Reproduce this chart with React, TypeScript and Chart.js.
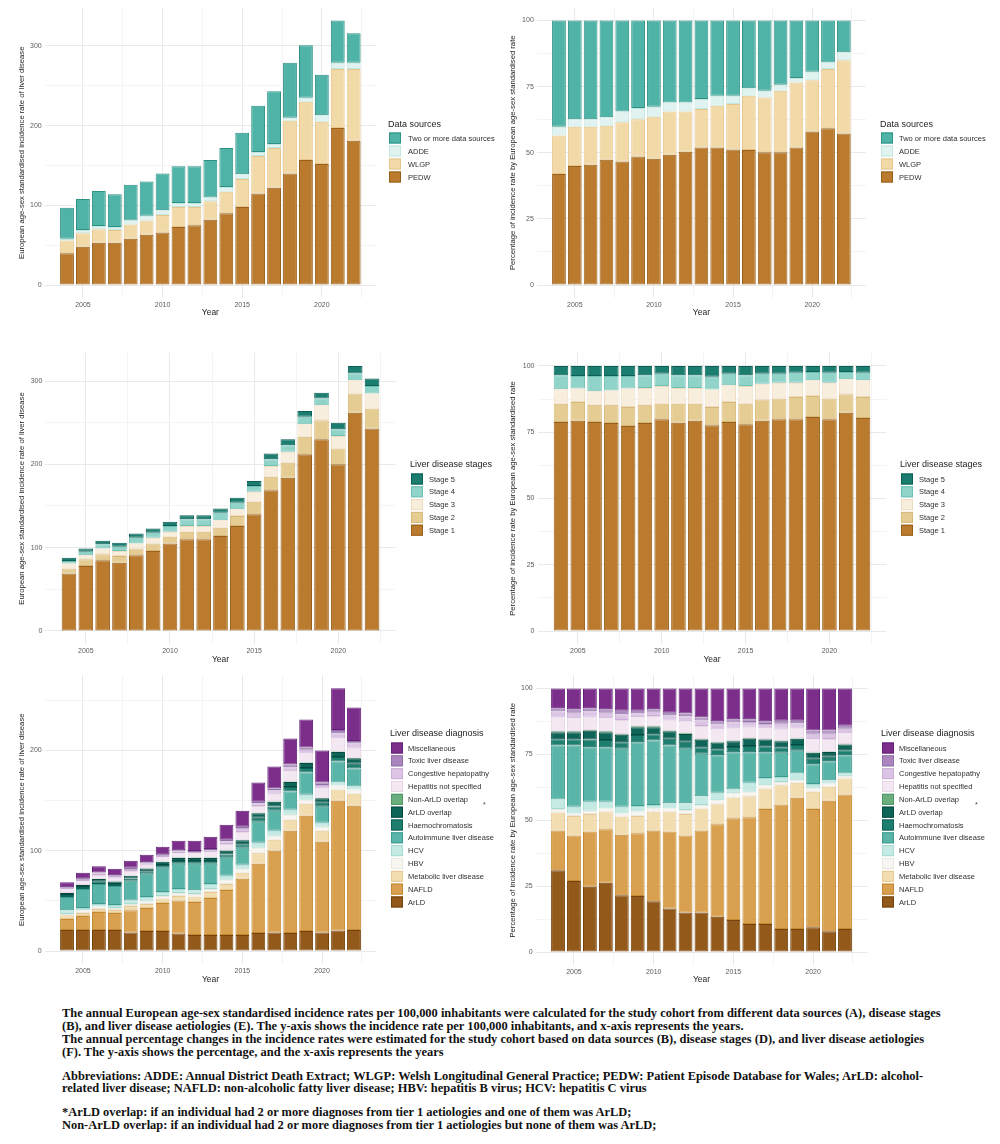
import React, { useEffect, useRef } from 'react';
import { Chart, registerables } from 'chart.js';

Chart.register(...registerables);

if (typeof document !== 'undefined') {
  document.body.style.margin = '0';
}

// ---------- shared axes ----------
const YEARS = [2004, 2005, 2006, 2007, 2008, 2009, 2010, 2011, 2012, 2013, 2014, 2015, 2016, 2017, 2018, 2019, 2020, 2021, 2022];
const YEAR_TICKS = [2005, 2010, 2015, 2020];
const YEAR_MINOR = [2007.5, 2012.5, 2017.5, 2022.5];
const RATE_TICKS_A = [0, 100, 200, 300];
const RATE_TICKS_C = [0, 100, 200, 300];
const RATE_TICKS_E = [0, 100, 200];
const RATE_MINOR = [50, 150, 250];
const PCT_TICKS = [0, 25, 50, 75, 100];
const PCT_MINOR = [12.5, 37.5, 62.5, 87.5];

const RATE_TITLE = 'European age-sex standardised incidence rate of liver disease';
const PCT_TITLE = 'Percentage of incidence rate by European age-sex standardised rate';

// ---------- Panel A: rate by data source ----------
const A_PEDW = [40, 48, 53, 53, 58, 63, 66, 73, 75, 82, 90, 98, 115, 122, 140, 157, 152, 197, 181];
const A_WLGP = [16, 17, 17, 16, 18, 18, 22, 25, 23, 23, 27, 35, 47, 50, 66, 73, 53, 74, 90];
const A_ADDE = [2, 4, 4, 4, 5, 6, 6, 5, 5, 5, 6, 6, 5, 5, 4, 5, 8, 8, 8];
const A_TWO = [39, 39, 44, 41, 45, 43, 46, 46, 46, 47, 49, 52, 58, 66, 69, 66, 51, 53, 37];

// ---------- Panel B: percentage by data source ----------
const B_PEDW = [42, 45, 45.5, 47.4, 46.7, 48.6, 47.7, 49.2, 50.4, 52, 52, 51.2, 51, 50.2, 50.2, 52, 58, 59.3, 57.3];
const B_WLGP = [14.5, 14.8, 14.3, 12.8, 14.8, 14.1, 15.9, 16.4, 15.2, 14.5, 15.8, 17.2, 20.5, 20.7, 23.2, 24.5, 19.4, 22.3, 27.7];
const B_ADDE = [3.3, 2.9, 2.9, 3.2, 4.1, 4.2, 3.8, 3.4, 3.4, 3.8, 3.7, 3.1, 2.9, 2.5, 2.3, 1.7, 3.2, 2.5, 3];
const B_TWO = [40.2, 37.3, 37.3, 36.6, 34.4, 33.1, 32.6, 31, 31, 29.7, 28.5, 28.5, 25.6, 26.6, 24.3, 21.8, 19.4, 15.9, 12];

// ---------- Panel C: rate by stage ----------
const C_S1 = [69, 78, 85, 82, 91, 96, 105, 110, 110, 114, 126, 140, 169, 184, 212, 230, 200, 262, 243];
const C_S2 = [6, 8, 7, 8, 8, 9, 8, 9, 9, 10, 12, 15, 16, 18, 21, 23, 19, 23, 24];
const C_S3 = [6, 5, 7, 6, 6, 7, 6, 7, 7, 9, 8, 12, 13, 13, 15, 18, 15, 16, 18];
const C_S4 = [3, 4, 5, 5, 7, 6, 7, 8, 8, 9, 8, 7, 8, 8, 9, 8, 8, 8, 9];
const C_S5 = [4, 4, 4.4, 5, 5, 5, 5, 5, 5, 5, 6, 6, 7, 7, 7, 7, 8, 9, 9];

// ---------- Panel D: percentage by stage ----------
const D_S1 = [78.9, 79.3, 78.9, 78.5, 77.4, 78.5, 79.9, 78.6, 79.3, 77.6, 78.9, 78, 79.3, 79.9, 79.9, 80.8, 79.9, 82.4, 80.4];
const D_S2 = [6.9, 7.1, 6.5, 6.9, 7.1, 6.9, 5.9, 7.2, 6.5, 6.9, 7.5, 7.8, 8.1, 7.8, 8.4, 7.9, 7.8, 6.9, 7.9];
const D_S3 = [5.4, 5.1, 5.1, 5.4, 7.0, 6.3, 6.7, 5.9, 5.9, 6.6, 6.3, 6.7, 5.9, 6.0, 5.4, 5.9, 6.0, 5.7, 6.3];
const D_S4 = [5.3, 4.7, 5.7, 5.4, 4.7, 4.8, 4.6, 4.8, 4.8, 4.8, 4.4, 4.0, 3.8, 3.4, 3.8, 3.1, 3.8, 2.7, 2.9];
const D_S5 = [3.5, 3.8, 3.8, 3.8, 3.8, 3.5, 2.9, 3.5, 3.5, 4.1, 2.9, 3.5, 2.9, 2.9, 2.5, 2.3, 2.5, 2.3, 2.5];

// ---------- Panel E: rate by diagnosis ----------
const E_ARLD = [21, 21, 21, 21, 18.5, 20, 20, 17.5, 16, 16, 16, 16, 18, 18.5, 18, 20, 18.5, 20.5, 21];
const E_NAFLD = [11, 14, 18, 17, 22.1, 23, 28, 33, 33, 37, 45, 56, 69, 81.5, 102, 115, 90.5, 129.5, 124];
const E_METAB = [3.6, 3, 3, 3, 4.4, 4, 4.5, 4.5, 5.5, 6, 6, 6, 11, 11, 11, 12, 11, 11, 12];
const E_HBV = [1.4, 2.6, 2.5, 2, 2, 2.5, 2.5, 3, 2.5, 3, 4, 4, 5, 4, 5, 4, 4, 4, 4];
const E_HCV = [3.6, 2.4, 2.5, 3, 3.5, 4.5, 4, 4, 3.7, 5, 4, 4, 5, 5, 5, 5, 4, 3, 3];
const E_AUTO = [13.4, 19, 20, 19, 19.5, 23, 24, 25, 26.3, 20, 18, 17, 21, 20, 18, 22, 16, 21, 18];
const E_HAEMO = [1.8, 1.8, 2.2, 2.0, 2.4, 2.5, 2.8, 2.8, 2.8, 2.8, 3.4, 3.6, 4.0, 4.2, 4.5, 4.5, 4.0, 4.5, 4.8];
const E_ARLD_OV = [2.0, 2.0, 2.6, 2.3, 2.6, 2.8, 3.2, 3.1, 3.1, 3.1, 3.7, 4.0, 4.5, 4.6, 5.0, 5.0, 4.5, 5.0, 5.4];
const E_NONARLD_OV = [0.2, 0.2, 0.2, 0.2, 0.3, 0.3, 0.3, 0.3, 0.3, 0.3, 0.4, 0.4, 0.5, 0.5, 0.5, 0.5, 0.5, 0.5, 0.5];
const E_HEPNS = [3.4, 3.6, 3.8, 3.7, 4.6, 3.5, 4.0, 4.4, 4.0, 5.2, 6.3, 7.8, 6.6, 7.6, 10.2, 9.0, 9.0, 12.9, 10.1];
const E_CONG = [1.4, 1.5, 1.6, 1.6, 1.9, 1.5, 1.7, 1.8, 1.6, 2.1, 2.6, 3.2, 2.7, 3.2, 4.2, 3.7, 3.7, 5.4, 4.2];
const E_TOXIC = [0.8, 0.9, 0.9, 0.9, 1.2, 0.9, 1.0, 1.1, 1.0, 1.3, 1.6, 2.0, 1.7, 1.9, 2.6, 2.3, 2.3, 3.2, 2.5];
const E_MISC = [5, 6, 6.2, 6.3, 7, 7.5, 8, 9.5, 10.2, 12.2, 15, 16, 19, 22, 26, 28, 32, 41.5, 33.5];

// ---------- Panel F: percentage by diagnosis ----------
const F_ARLD = [31, 27, 24.8, 26.3, 21.6, 21.3, 19.3, 16.5, 15, 15, 13.4, 12.2, 10.7, 10.7, 8.8, 8.8, 9.4, 7.9, 8.8];
const F_NAFLD = [15.1, 17.2, 20.9, 20.3, 22.9, 23.8, 26.8, 29.2, 29.2, 31.1, 35.1, 38.6, 40.4, 43.6, 47.2, 49.7, 44.9, 49.5, 51];
const F_METAB = [6.8, 7.4, 6.7, 6.7, 6.9, 6.5, 7.2, 7.6, 8.2, 8.4, 7.6, 7.8, 8, 7.7, 7.3, 5.7, 6.5, 5.3, 6];
const F_HBV = [1.4, 1, 1.2, 1.2, 1.2, 1.7, 1.2, 1.2, 1.5, 1.3, 1.5, 1.6, 1.7, 1.3, 1.2, 1, 1.2, 1.2, 0.9];
const F_HCV = [3.6, 2.5, 3.4, 2.5, 2.5, 2.1, 1.3, 1.9, 2.5, 3.3, 2.8, 1.5, 3.4, 2.7, 1.9, 2.5, 1.7, 1.3, 1];
const F_AUTO = [20.4, 23.2, 20.7, 20.7, 22, 24.2, 24.4, 21.9, 20.7, 16.1, 14.2, 14.1, 11.6, 9.8, 9.2, 8.7, 7.5, 7.2, 6.9];
const F_HAEMO = [2.4, 2.4, 2.9, 2.7, 2.5, 2.7, 2.4, 2.6, 2.7, 2.5, 2.3, 2.0, 2.4, 2.3, 2.1, 2.1, 2.1, 1.7, 1.9];
const F_ARLD_OV = [2.7, 2.7, 3.3, 3.0, 2.8, 3.0, 2.7, 2.8, 2.9, 2.8, 2.6, 2.2, 2.7, 2.5, 2.3, 2.4, 2.3, 1.8, 2.2];
const F_NONARLD_OV = [0.3, 0.3, 0.3, 0.3, 0.3, 0.3, 0.3, 0.3, 0.3, 0.3, 0.3, 0.2, 0.3, 0.2, 0.2, 0.2, 0.2, 0.2, 0.2];
const F_HEPNS = [5.3, 5.0, 5.0, 5.0, 5.3, 3.5, 3.9, 4.1, 4.5, 4.9, 4.6, 4.9, 4.3, 4.0, 4.5, 4.0, 4.9, 4.7, 4.1];
const F_CONG = [2.2, 2.1, 2.1, 2.1, 2.2, 1.5, 1.6, 1.7, 1.9, 2.1, 1.9, 2.0, 1.8, 1.7, 1.9, 1.7, 2.1, 2.0, 1.7];
const F_TOXIC = [1.3, 1.3, 1.2, 1.3, 1.3, 0.9, 1.0, 1.0, 1.1, 1.2, 1.2, 1.2, 1.0, 1.0, 1.1, 0.9, 1.2, 1.2, 1.1];
const F_MISC = [7.5, 7.9, 7.5, 7.9, 8.5, 8.5, 7.9, 9.2, 9.5, 11, 12.5, 11.7, 11.7, 12.5, 12.3, 12.3, 16, 16, 14.2];

// ---------- legend labels ----------
const SOURCE_LABELS = ['PEDW', 'WLGP', 'ADDE', 'Two or more data sources'];
const STAGE_LABELS = ['Stage 1', 'Stage 2', 'Stage 3', 'Stage 4', 'Stage 5'];
const DIAG_LABELS = [
  'ArLD', 'NAFLD', 'Metabolic liver disease', 'HBV', 'HCV', 'Autoimmune liver disease',
  'Haemochromatosis', 'ArLD overlap', 'Non-ArLD overlap', 'Hepatitis not specified',
  'Congestive hepatopathy', 'Toxic liver disease', 'Miscellaneous',
];

const CAPTION_LINES = [
  'The annual European age-sex standardised incidence rates per 100,000 inhabitants were calculated for the study cohort from different data sources (A), disease stages',
  '(B), and liver disease aetiologies (E). The y-axis shows the incidence rate per 100,000 inhabitants, and x-axis represents the years.',
  'The annual percentage changes in the incidence rates were estimated for the study cohort based on data sources (B), disease stages (D), and liver disease aetiologies',
  '(F). The y-axis shows the percentage, and the x-axis represents the years',
  'Abbreviations: ADDE: Annual District Death Extract; WLGP: Welsh Longitudinal General Practice; PEDW: Patient Episode Database for Wales; ArLD: alcohol-',
  'related liver disease; NAFLD: non-alcoholic fatty liver disease; HBV: hepatitis B virus; HCV: hepatitis C virus',
  '*ArLD overlap: if an individual had 2 or more diagnoses from tier 1 aetiologies and one of them was ArLD;',
  'Non-ArLD overlap: if an individual had 2 or more diagnoses from tier 1 aetiologies but none of them was ArLD;',
];
const CAPTION_Y = [1013, 1026, 1039, 1052, 1076, 1088, 1112, 1125];

// ---------- colours ----------
const SOURCE_FILL = ['#bb7b2e', '#f2d9a8', '#e0f3f0', '#4fb3a7'];
const SOURCE_LINE = ['#98601a', '#e6c68c', '#c2e6e0', '#2d9184'];
const STAGE_FILL = ['#bb7b2e', '#e5cc93', '#f8eedd', '#8fd3c9', '#1a7d6f'];
const STAGE_LINE = ['#98601a', '#d8b878', '#efdcbf', '#6fc0b4', '#0b5f54'];
const DIAG_FILL = ['#93591a', '#d9a14f', '#f2ddb0', '#f7f6f1', '#c5e9e3', '#5ab5a9', '#1d7e70', '#0f6458', '#6aae7e', '#f3e7f2', '#dcc4e4', '#a984bd', '#7b2e8a'];
const DIAG_LINE = ['#74420a', '#c4892f', '#e7c995', '#ebe8df', '#a6dbd3', '#3c9a8e', '#0e6357', '#064a40', '#4f9766', '#e8d6e6', '#cbaed6', '#9270a8', '#64207a'];

const FONT = '"Liberation Sans", Arial, Helvetica, sans-serif';
const TICK_COLOR = '#5b5b5b';
const TITLE_COLOR = '#1e1e1e';
const GRID_MAJOR = '#e9e9e9';
const GRID_MINOR = '#f4f4f4';

type Series = { label: string; values: number[]; fill: string; line: string };
type PanelCfg = {
  key: string;
  cx: number; cy: number; cw: number; ch: number;
  padTop: number; padRight: number; yAxisW: number; xAxisH: number;
  yMin: number; yMax: number; yMajor: number[]; yMinor: number[];
  yTitle: string; yTitlePad: number; yearPad: number;
  series: Series[];
  legend: { title: string; x: number; titleY: number; rowY: number; rowH: number; labelX: number; note?: { x: number; y: number } };
};

function makeSeries(labels: string[], values: number[][], fills: string[], lines: string[]): Series[] {
  return labels.map((label, i) => ({ label, values: values[i], fill: fills[i], line: lines[i] }));
}

const sideLegend = {
  id: 'sideLegend',
  afterDraw(chart: any, _args: any, opts: any) {
    if (!opts || !opts.title) return;
    const ctx = chart.ctx as CanvasRenderingContext2D;
    ctx.save();
    ctx.textBaseline = 'middle';
    ctx.textAlign = 'left';
    ctx.fillStyle = TITLE_COLOR;
    ctx.font = `9px ${FONT}`;
    ctx.fillText(opts.title, opts.x, opts.titleY);
    const ds = chart.data.datasets.slice().reverse();
    ds.forEach((d: any, i: number) => {
      const y = opts.rowY + i * opts.rowH;
      ctx.fillStyle = d.backgroundColor;
      ctx.fillRect(opts.x + 1, y - 5.5, 12, 11);
      ctx.strokeStyle = d.borderColor;
      ctx.lineWidth = 1;
      ctx.strokeRect(opts.x + 1.5, y - 5, 11, 10);
      ctx.fillStyle = '#303030';
      ctx.font = `7.5px ${FONT}`;
      ctx.fillText(d.label, opts.labelX, y + 0.5);
    });
    if (opts.note) {
      ctx.fillStyle = '#444';
      ctx.font = `7px ${FONT}`;
      ctx.fillText('*', opts.note.x, opts.note.y);
    }
    ctx.restore();
  },
};

function buildConfig(p: PanelCfg): any {
  const xAll = [...YEAR_TICKS, ...YEAR_MINOR].sort((a, b) => a - b);
  const yAll = [...p.yMajor, ...p.yMinor].filter((v) => v <= p.yMax).sort((a, b) => a - b);
  return {
    type: 'bar',
    data: {
      datasets: p.series.map((s) => ({
        label: s.label,
        data: YEARS.map((yr, i) => ({ x: yr, y: s.values[i] })),
        backgroundColor: s.fill,
        borderColor: s.line,
        borderWidth: 1,
        borderSkipped: false,
        barPercentage: 0.92,
        categoryPercentage: 0.945,
      })),
    },
    options: {
      animation: false,
      responsive: false,
      maintainAspectRatio: false,
      events: [],
      layout: { padding: { top: p.padTop, right: p.padRight, bottom: 0, left: 0 } },
      plugins: {
        legend: { display: false },
        tooltip: { enabled: false },
        sideLegend: p.legend,
      },
      scales: {
        x: {
          type: 'linear',
          stacked: true,
          min: 2002.6,
          max: 2023.4,
          offset: false,
          afterBuildTicks: (s: any) => {
            s.ticks = xAll.map((v) => ({ value: v }));
          },
          afterFit: (s: any) => {
            s.height = p.xAxisH;
          },
          ticks: {
            autoSkip: false,
            maxRotation: 0,
            padding: 3,
            color: TICK_COLOR,
            font: { family: FONT, size: 7 },
            callback: (v: number) => (YEAR_TICKS.includes(v) ? String(v) : ''),
          },
          grid: {
            offset: false,
            drawTicks: false,
            lineWidth: 1,
            color: (c: any) => (c.tick && YEAR_TICKS.includes(c.tick.value) ? GRID_MAJOR : GRID_MINOR),
          },
          border: { display: false },
          title: {
            display: true,
            text: 'Year',
            color: TITLE_COLOR,
            font: { family: FONT, size: 8.5 },
            padding: { top: 0, bottom: p.yearPad },
          },
        },
        y: {
          type: 'linear',
          stacked: true,
          min: p.yMin,
          max: p.yMax,
          afterBuildTicks: (s: any) => {
            s.ticks = yAll.map((v) => ({ value: v }));
          },
          afterFit: (s: any) => {
            s.width = p.yAxisW;
          },
          ticks: {
            autoSkip: false,
            padding: 3,
            color: TICK_COLOR,
            font: { family: FONT, size: 7 },
            callback: (v: number) => (p.yMajor.includes(v) ? String(v) : ''),
          },
          grid: {
            drawTicks: false,
            lineWidth: 1,
            color: (c: any) => (c.tick && p.yMajor.includes(c.tick.value) ? GRID_MAJOR : GRID_MINOR),
          },
          border: { display: false },
          title: {
            display: true,
            text: p.yTitle,
            color: TITLE_COLOR,
            font: { family: FONT, size: 7.7 },
            padding: { top: p.yTitlePad, bottom: 0 },
          },
        },
      },
    },
    plugins: [sideLegend],
  };
}

const PANELS: PanelCfg[] = [
  {
    key: 'A', cx: 0, cy: 0, cw: 500, ch: 322,
    padTop: 6.1, padRight: 124, yAxisW: 44.7, xAxisH: 23.7,
    yMin: -16.6, yMax: 348.6, yMajor: RATE_TICKS_A, yMinor: RATE_MINOR,
    yTitle: RATE_TITLE, yTitlePad: 17.4, yearPad: 4,
    series: makeSeries(SOURCE_LABELS, [A_PEDW, A_WLGP, A_ADDE, A_TWO], SOURCE_FILL, SOURCE_LINE),
    legend: { title: 'Data sources', x: 388, titleY: 125, rowY: 138, rowH: 13, labelX: 408 },
  },
  {
    key: 'B', cx: 500, cy: 0, cw: 500, ch: 322,
    padTop: 5.7, padRight: 134, yAxisW: 36.8, xAxisH: 23.7,
    yMin: -5, yMax: 105, yMajor: PCT_TICKS, yMinor: PCT_MINOR,
    yTitle: PCT_TITLE, yTitlePad: 8.4, yearPad: 4,
    series: makeSeries(SOURCE_LABELS, [B_PEDW, B_WLGP, B_ADDE, B_TWO], SOURCE_FILL, SOURCE_LINE),
    legend: { title: 'Data sources', x: 380, titleY: 125, rowY: 138, rowH: 13, labelX: 399 },
  },
  {
    key: 'C', cx: 0, cy: 340, cw: 500, ch: 328,
    padTop: 12.8, padRight: 104.4, yAxisW: 45.4, xAxisH: 23.8,
    yMin: -15.9, yMax: 333.9, yMajor: RATE_TICKS_C, yMinor: RATE_MINOR,
    yTitle: RATE_TITLE, yTitlePad: 17.4, yearPad: 3,
    series: makeSeries(STAGE_LABELS, [C_S1, C_S2, C_S3, C_S4, C_S5], STAGE_FILL, STAGE_LINE),
    legend: { title: 'Liver disease stages', x: 410, titleY: 125, rowY: 139, rowH: 12.8, labelX: 429 },
  },
  {
    key: 'D', cx: 500, cy: 340, cw: 500, ch: 328,
    padTop: 12.75, padRight: 113.5, yAxisW: 37.5, xAxisH: 23.75,
    yMin: -5, yMax: 105, yMajor: PCT_TICKS, yMinor: PCT_MINOR,
    yTitle: PCT_TITLE, yTitlePad: 8.4, yearPad: 3,
    series: makeSeries(STAGE_LABELS, [D_S1, D_S2, D_S3, D_S4, D_S5], STAGE_FILL, STAGE_LINE),
    legend: { title: 'Liver disease stages', x: 400, titleY: 125, rowY: 139, rowH: 12.8, labelX: 419 },
  },
  {
    key: 'E', cx: 0, cy: 668, cw: 500, ch: 322,
    padTop: 5.1, padRight: 123.7, yAxisW: 44.7, xAxisH: 25.8,
    yMin: -13.1, yMax: 275.1, yMajor: RATE_TICKS_E, yMinor: RATE_MINOR,
    yTitle: RATE_TITLE, yTitlePad: 17.4, yearPad: 5,
    series: makeSeries(
      DIAG_LABELS,
      [E_ARLD, E_NAFLD, E_METAB, E_HBV, E_HCV, E_AUTO, E_HAEMO, E_ARLD_OV, E_NONARLD_OV, E_HEPNS, E_CONG, E_TOXIC, E_MISC],
      DIAG_FILL,
      DIAG_LINE,
    ),
    legend: { title: 'Liver disease diagnosis', x: 390, titleY: 66, rowY: 80, rowH: 12.83, labelX: 408, note: { x: 483, y: 137 } },
  },
  {
    key: 'F', cx: 500, cy: 668, cw: 500, ch: 322,
    padTop: 4.7, padRight: 132.7, yAxisW: 35.7, xAxisH: 24.7,
    yMin: -5, yMax: 105, yMajor: PCT_TICKS, yMinor: PCT_MINOR,
    yTitle: PCT_TITLE, yTitlePad: 8.4, yearPad: 5,
    series: makeSeries(
      DIAG_LABELS,
      [F_ARLD, F_NAFLD, F_METAB, F_HBV, F_HCV, F_AUTO, F_HAEMO, F_ARLD_OV, F_NONARLD_OV, F_HEPNS, F_CONG, F_TOXIC, F_MISC],
      DIAG_FILL,
      DIAG_LINE,
    ),
    legend: { title: 'Liver disease diagnosis', x: 381, titleY: 66, rowY: 80, rowH: 12.83, labelX: 399, note: { x: 475, y: 137 } },
  },
];

function Panel({ cfg }: { cfg: PanelCfg }) {
  const ref = useRef<HTMLCanvasElement | null>(null);
  useEffect(() => {
    if (!ref.current) return;
    const chart = new Chart(ref.current, buildConfig(cfg));
    return () => chart.destroy();
  }, [cfg]);
  return (
    <canvas
      ref={ref}
      width={cfg.cw}
      height={cfg.ch}
      style={{ position: 'absolute', left: cfg.cx, top: cfg.cy, width: cfg.cw, height: cfg.ch }}
    />
  );
}

export default function App() {
  return (
    <div style={{ position: 'relative', width: 1000, height: 1144, background: '#ffffff', overflow: 'hidden' }}>
      {PANELS.map((p) => (
        <Panel key={p.key} cfg={p} />
      ))}
      {CAPTION_LINES.map((line, i) => (
        <div
          key={i}
          style={{
            position: 'absolute',
            left: 62,
            top: CAPTION_Y[i] - 7,
            height: 14,
            lineHeight: '14px',
            whiteSpace: 'nowrap',
            fontFamily: '"Liberation Serif", "Times New Roman", serif',
            fontWeight: 700,
            fontSize: 12.45,
            color: '#111',
          }}
        >
          {line}
        </div>
      ))}
    </div>
  );
}
